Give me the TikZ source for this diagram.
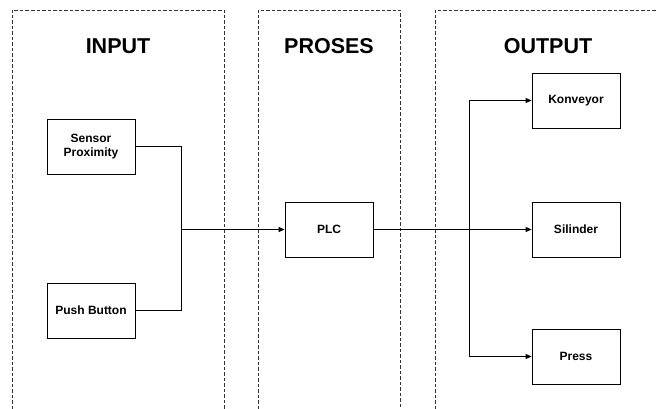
\documentclass[tikz,border=0pt]{standalone}
\usepackage{fontspec}
\setmainfont{Liberation Sans}
\usetikzlibrary{arrows.meta}
\begin{document}
\begin{tikzpicture}[x=1pt,y=-1pt,
  panel/.style={draw=black!80,line width=0.8pt,dash pattern=on 3.5pt off 2pt},
  title/.style={font=\fontsize{21.5}{24}\selectfont\bfseries},
  blk/.style={draw,line width=0.8pt,minimum width=88pt,minimum height=55pt,align=center,inner sep=1pt,font=\fontsize{12}{14}\selectfont\bfseries},
  conn/.style={line width=0.9pt},
  arr/.style={conn,-{Triangle[length=6pt,width=5pt]}}]
\useasboundingbox (0,0) rectangle (657,409);
% panels
\draw[panel] (12,409) -- (12,10) -- (224,10) -- (224,409);
\draw[panel] (258,409) -- (258,10) -- (400,10) -- (400,409);
\draw[panel] (435,409) -- (435,10) -- (657,10);
% titles
\node[title] (tin) at (118,46) {INPUT};
\node[title] (tpr) at (329,46) {PROSES};
\node[title] (tout) at (548,46) {OUTPUT};
% blocks
\node[blk] (sensor) at (91,146.5) {Sensor\\Proximity};
\node[blk] (push) at (91,310.5) {Push Button};
\node[blk] (plc) at (329,229.5) {PLC};
\node[blk] (konv) at (576,100.5) {Konveyor};
\node[blk] (sil) at (576,229.5) {Silinder};
\node[blk] (press) at (576,356.5) {Press};
% connectors
\coordinate (jin) at (181,229.5);
\coordinate (jout) at (469,229.5);
\draw[conn] (sensor.east) -| (jin);
\draw[conn] (push.east) -| (jin);
\draw[arr,line width=1.2pt] (jin) -- (plc.west);
\draw[conn,line width=1.2pt] (plc.east) -- (jout);
\draw[arr] (jout) -- (sil.west);
\draw[arr] (jout) |- (konv.west);
\draw[arr] (jout) |- (press.west);
\end{tikzpicture}
\end{document}
